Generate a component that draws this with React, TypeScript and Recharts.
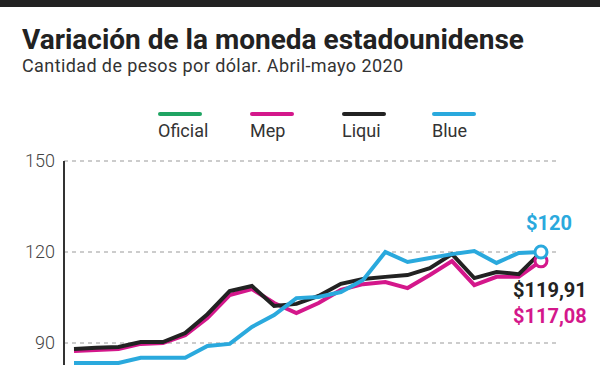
import { LineChart, Line, XAxis, YAxis, CartesianGrid } from 'recharts'

// Fechas (abril-mayo 2020)
const fechas = [
  '01/04', '03/04', '07/04', '13/04', '15/04', '17/04', '21/04', '23/04',
  '27/04', '29/04', '04/05', '06/05', '08/05', '12/05', '14/05', '18/05',
  '20/05', '22/05', '26/05', '27/05', '28/05', '29/05',
]

// Pesos por dólar
const oficial = [
  68.5, 68.6, 68.8, 69.0, 69.2, 69.3, 69.5, 69.7, 69.9, 70.1, 70.3,
  70.5, 70.7, 70.9, 71.1, 71.3, 71.5, 71.7, 71.9, 72.0, 72.2, 72.3,
]
const mep = [
  87.4, 87.7, 88.0, 89.7, 90.0, 92.6, 98.2, 105.8, 107.8, 103.2, 99.9,
  103.2, 107.5, 109.4, 110.1, 108.1, 112.4, 117.0, 109.1, 111.8, 111.8, 117.08,
]
const liqui = [
  88.0, 88.4, 88.7, 90.3, 90.3, 93.3, 99.5, 107.1, 108.8, 102.2, 102.9,
  105.5, 109.5, 111.1, 111.8, 112.4, 114.7, 119.3, 111.4, 113.4, 112.7, 119.91,
]
const blue = [
  83.4, 83.4, 83.4, 85.1, 85.1, 85.1, 89.0, 89.7, 95.3, 99.2, 104.8,
  105.2, 106.8, 110.8, 120.0, 116.7, 118.0, 119.3, 120.3, 116.4, 119.7, 120,
]

const yTicks = [60, 90, 120, 150]

const SERIES = [
  { key: 'oficial', name: 'Oficial', color: '#1fa463', last: '' },
  { key: 'mep', name: 'Mep', color: '#d4178b', last: '$117,08' },
  { key: 'liqui', name: 'Liqui', color: '#222222', last: '$119,91' },
  { key: 'blue', name: 'Blue', color: '#2aa9dd', last: '$120' },
]

const data = fechas.map((fecha, i) => ({
  fecha,
  oficial: oficial[i],
  mep: mep[i],
  liqui: liqui[i],
  blue: blue[i],
}))

const FONT = 'Roboto, "Noto Sans", sans-serif'
const LAST = fechas.length - 1

// Circle + value label on the last point only
const endMark = (key: string) => (props: any) => {
  const { cx, cy, index } = props
  if (index !== LAST) return <g key={`dot-${key}-${index}`} />
  const s = SERIES.find((d) => d.key === key)!
  if (key === 'blue') {
    return (
      <g key={`dot-${key}-${index}`}>
        <circle cx={cx} cy={cy} r={6} fill="#fff" stroke={s.color} strokeWidth={3} />
        <text x={cx + 8} y={cy - 22} textAnchor="middle" fill={s.color}
          fontFamily={FONT} fontWeight={700} fontSize={20}>{s.last}</text>
      </g>
    )
  }
  if (key === 'mep') {
    return (
      <g key={`dot-${key}-${index}`}>
        <circle cx={cx} cy={cy} r={6} fill="#fff" stroke={s.color} strokeWidth={3} />
        <text x={cx - 28} y={cy + 62} fill={s.color}
          fontFamily={FONT} fontWeight={700} fontSize={20}>{s.last}</text>
      </g>
    )
  }
  if (key === 'liqui') {
    return (
      <text key={`dot-${key}-${index}`} x={cx - 28} y={cy + 45} fill={s.color}
        fontFamily={FONT} fontWeight={700} fontSize={20}>{s.last}</text>
    )
  }
  return <g key={`dot-${key}-${index}`} />
}

export default function App() {
  return (
    <div style={{ position: 'absolute', top: 0, left: 0, width: 600, height: 365, overflow: 'hidden', background: '#fff', fontFamily: FONT }}>
      <div style={{ position: 'absolute', top: 0, left: 0, width: 600, height: 7, background: '#222' }} />
      <div style={{ position: 'absolute', top: 23, left: 22, fontSize: 28, fontWeight: 700, color: '#222', whiteSpace: 'nowrap' }}>
        Variación de la moneda estadounidense
      </div>
      <div style={{ position: 'absolute', top: 55, left: 22, fontSize: 18, color: '#333', whiteSpace: 'nowrap', letterSpacing: 0.4 }}>
        Cantidad de pesos por dólar. Abril-mayo 2020
      </div>

      <LineChart width={600} height={439} data={data}
        margin={{ top: 161, right: 44, left: 0, bottom: 5 }}
        style={{ position: 'absolute', top: 0, left: 0 }}>
        <CartesianGrid vertical={false} stroke="#999" strokeDasharray="4 4" />
        <XAxis dataKey="fecha" hide padding={{ left: 10, right: 15 }} />
        <YAxis domain={[60, 150]} ticks={yTicks} width={64}
          axisLine={{ stroke: '#333', strokeWidth: 2 }} tickLine={false}
          tickSize={6} tickMargin={3}
          tick={{ fill: '#444', fontSize: 18, fontFamily: FONT, fontWeight: 300 }} />
        {SERIES.map((s) => (
          <Line key={s.key} type="linear" dataKey={s.key} name={s.name}
            stroke={s.color} strokeWidth={4} dot={endMark(s.key)}
            activeDot={false} isAnimationActive={false} />
        ))}
      </LineChart>

      {/* legend */}
      {SERIES.map((s, i) => (
        <div key={s.key} style={{ position: 'absolute', top: 112, left: [158, 250, 342, 432][i] }}>
          <div style={{ width: 44, height: 4, background: s.color, borderRadius: 2 }} />
          <div style={{ marginTop: 5, fontSize: 18, color: '#333', lineHeight: '20px' }}>{s.name}</div>
        </div>
      ))}
    </div>
  )
}
